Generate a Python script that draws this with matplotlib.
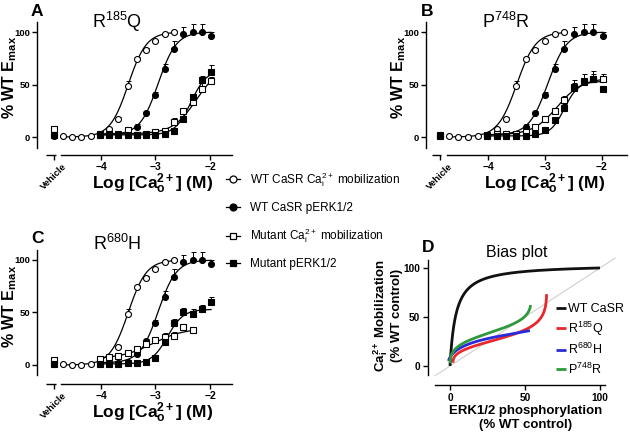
import numpy as np
import matplotlib
matplotlib.use('Agg')
import matplotlib.pyplot as plt
from matplotlib.lines import Line2D

plt.rcParams['font.family'] = ['Liberation Sans', 'DejaVu Sans']
plt.rcParams['mathtext.fontset'] = 'custom'
plt.rcParams['mathtext.rm'] = 'Liberation Sans'
plt.rcParams['mathtext.it'] = 'Liberation Sans:italic'
plt.rcParams['mathtext.bf'] = 'Liberation Sans:bold'
plt.rcParams['mathtext.default'] = 'regular'

# ---------------- data ----------------
log_ca = [-4.70, -4.53, -4.36, -4.19, -4.02, -3.85, -3.68, -3.51, -3.34,
          -3.17, -3.00, -2.83, -2.66, -2.49, -2.32, -2.15, -1.98]
vehicle_x = -4.86
x_ticks = [-4, -3, -2]
x_tick_labels = ['\u22124', '\u22123', '\u22122']
y_ticks = [0, 50, 100]

# WT CaSR (same in panels A-C)
wt_ca_x = log_ca[:13]
wt_ca_y = [1, 0, 0, 1, 2, 8, 17, 49, 74, 83, 91, 98, 100]
wt_ca_err = [0, 0, 0, 0, 1, 1, 2, 4, 2, 2, 1, 1, 1]
wt_erk_x = log_ca[4:]
wt_erk_y = [2, 2, 2, 3, 10, 23, 40, 65, 84, 98, 100, 100, 96]
wt_erk_err = [1, 1, 1, 1, 2, 2, 3, 5, 7, 7, 8, 8, 4]

# Panel A: R185Q
a_mut_ca_x = log_ca[4:]
a_mut_ca_y = [3, 3, 3, 7, 2, 3, 5, 6, 14, 25, 33, 46, 53]
a_mut_ca_err = [1, 1, 1, 3, 1, 2, 3, 3, 4, 3, 4, 5, 4]
a_mut_erk_x = log_ca[4:]
a_mut_erk_y = [2, 2, 2, 2, 2, 2, 2, 3, 6, 17, 38, 54, 62]
a_mut_erk_err = [1, 1, 1, 1, 1, 1, 2, 2, 2, 3, 3, 4, 7]
a_vehicle = [2, 1, 8, 2]   # WT Ca, WT pERK, mutant Ca, mutant pERK

# Panel B: P748R
b_mut_ca_x = log_ca[4:]
b_mut_ca_y = [2, 3, 3, 3, 5, 10, 17, 25, 35, 48, 53, 55, 55]
b_mut_ca_err = [1, 1, 1, 1, 2, 2, 3, 3, 4, 6, 7, 8, 5]
b_mut_erk_x = log_ca[4:]
b_mut_erk_y = [1, 1, 1, 1, 1, 3, 7, 16, 28, 47, 52, 55, 46]
b_mut_erk_err = [1, 1, 1, 1, 1, 1, 2, 2, 3, 4, 4, 5, 3]
b_vehicle = [1, 1, 2, 1]

# Panel C: R680H
c_mut_ca_x = log_ca[4:15]
c_mut_ca_y = [6, 8, 9, 11, 15, 20, 24, 27, 28, 36, 33]
c_mut_ca_err = [1, 1, 1, 2, 2, 2, 2, 3, 3, 3, 3]
c_mut_erk_x = log_ca[4:]
c_mut_erk_y = [1, 1, 1, 2, 2, 3, 7, 22, 40, 50, 49, 53, 60]
c_mut_erk_err = [1, 1, 1, 1, 1, 1, 2, 3, 4, 4, 4, 4, 5]
c_vehicle = [1, 1, 5, 1]

# fitted curves: (bottom, top, logEC50, Hill slope, log start, log end)
wt_ca_fit = (0, 100, -3.50, 2.6, -4.70, -2.66)
wt_erk_fit = (2, 100, -2.95, 2.6, -4.02, -1.98)
a_mut_ca_fit = (3, 68, -2.25, 2.0, -4.02, -1.98)
a_mut_erk_fit = (2, 64, -2.35, 3.0, -4.02, -1.98)
b_mut_ca_fit = (2, 56, -2.78, 2.0, -4.02, -1.98)
b_mut_erk_fit = (1, 53, -2.66, 3.5, -4.02, -1.98)
c_mut_ca_fit = (6, 35, -3.05, 1.5, -4.02, -2.32)
c_mut_erk_fit = (1, 53, -2.78, 3.0, -4.02, -1.98)

# Bias plot (panel D): ERK fit and Ca fit per receptor
d_names = ['WT CaSR', 'R$^{185}$Q', 'R$^{680}$H', 'P$^{748}$R']
d_colors = ['#111111', '#e8282c', '#2a2ad8', '#2e9a3c']
d_erk_fit = [(0, 100, -2.95, 2.6), (2, 64.5, -2.30, 3.0), (-1, 55, -2.75, 2.0), (0, 54, -2.62, 2.5)]
d_ca_fit = [(0, 100, -3.50, 2.6), (3, 85, -2.00, 1.2), (5, 37, -3.05, 1.5), (0, 70, -2.60, 1.0)]
d_log_range = [(-4.7, -1.3), (-4.0, -1.35), (-4.5, -2.0), (-4.0, -1.7)]
d_identity = [-10, 110]
d_ticks = [0, 50, 100]


def hill(x, p):
    bottom, top, ec50, h = p[:4]
    return bottom + (top - bottom) / (1 + 10 ** ((ec50 - x) * h))


# ---------------- figure ----------------
W, H = 630, 433
fig = plt.figure(figsize=(6.3, 4.33), dpi=100)


def px_rect(l, r, t, b):
    return [l / W, (H - b) / H, (r - l) / W, (b - t) / H]


def style_dose_axes(ax, xlim, ylim):
    ax.set_xlim(*xlim)
    ax.set_ylim(*ylim)
    for s in ['top', 'right']:
        ax.spines[s].set_visible(False)
    for s in ['left', 'bottom']:
        ax.spines[s].set_linewidth(1.0)
    ax.spines['left'].set_bounds(-10, 110)
    ax.spines['bottom'].set_bounds(-4.73, xlim[1])
    # vehicle segment of broken axis
    ax.plot([-5.0, -4.83], [0, 0], color='black', lw=1.0,
            transform=ax.get_xaxis_transform(), clip_on=False, solid_capstyle='butt')
    ax.set_yticks(y_ticks)
    ax.set_yticklabels([str(v) for v in y_ticks], fontsize=6.8, fontweight='bold')
    ax.set_xticks([vehicle_x] + x_ticks)
    labels = ax.set_xticklabels(['Vehicle'] + x_tick_labels, fontsize=7.5, fontweight='bold')
    labels[0].set_rotation(45)
    labels[0].set_ha('center')
    labels[0].set_fontsize(6.8)
    ax.tick_params(direction='out', length=3.5, width=1.0, pad=1.5)
    ax.set_ylabel('% WT E$_{max}$', fontsize=11.5, fontweight='bold')
    ax.set_xlabel('Log [Ca$^{2+}_{o}$] (M)', fontsize=12.5, fontweight='bold')


def draw_series(ax, x, y, err, vehicle_y, marker, filled, fit):
    ax.errorbar(x, y, yerr=[np.zeros(len(err)), err], fmt='none', ecolor='black',
                elinewidth=0.7, capsize=1.8, capthick=0.7, zorder=2)
    xs = np.linspace(fit[4], fit[5], 200)
    ax.plot(xs, hill(xs, fit), color='black', lw=0.9, zorder=3)
    fc = 'black' if filled else 'white'
    ax.plot(list(x) + [vehicle_x], list(y) + [vehicle_y], linestyle='none', marker=marker,
            ms=4.3, mfc=fc, mec='black', mew=0.8, zorder=4, clip_on=False)


panels = [
    dict(rect=(37, 232, 21.5, 155), xlim=(-5.174, -1.596), ylim=(-17.14, 110),
         title='R$^{185}$Q', tpos=(0.41, 0.955), letter='A', lpos=(31, 16),
         mca=(a_mut_ca_x, a_mut_ca_y, a_mut_ca_err, a_mut_ca_fit),
         merk=(a_mut_erk_x, a_mut_erk_y, a_mut_erk_err, a_mut_erk_fit), veh=a_vehicle),
    dict(rect=(426, 627, 21.5, 155), xlim=(-5.099, -1.554), ylim=(-17.14, 110),
         title='P$^{748}$R', tpos=(0.40, 0.955), letter='B', lpos=(421, 16),
         mca=(b_mut_ca_x, b_mut_ca_y, b_mut_ca_err, b_mut_ca_fit),
         merk=(b_mut_erk_x, b_mut_erk_y, b_mut_erk_err, b_mut_erk_fit), veh=b_vehicle),
    dict(rect=(37, 232, 249.5, 384), xlim=(-5.174, -1.596), ylim=(-18.1, 110),
         title='R$^{680}$H', tpos=(0.41, 1.0), letter='C', lpos=(31, 243),
         mca=(c_mut_ca_x, c_mut_ca_y, c_mut_ca_err, c_mut_ca_fit),
         merk=(c_mut_erk_x, c_mut_erk_y, c_mut_erk_err, c_mut_erk_fit), veh=c_vehicle),
]

for p in panels:
    ax = fig.add_axes(px_rect(*p['rect']))
    style_dose_axes(ax, p['xlim'], p['ylim'])
    ax.xaxis.set_label_coords(0.59, -0.125)
    ax.yaxis.set_label_coords(-0.09, 0.58)
    draw_series(ax, wt_ca_x, wt_ca_y, wt_ca_err, p['veh'][0], 'o', False, wt_ca_fit)
    draw_series(ax, wt_erk_x, wt_erk_y, wt_erk_err, p['veh'][1], 'o', True, wt_erk_fit)
    x, y, e, f = p['mca']
    draw_series(ax, x, y, e, p['veh'][2], 's', False, f)
    x, y, e, f = p['merk']
    draw_series(ax, x, y, e, p['veh'][3], 's', True, f)
    ax.text(p['tpos'][0], p['tpos'][1], p['title'], transform=ax.transAxes,
            ha='center', va='baseline', fontsize=13)
    fig.text(p['lpos'][0] / W, 1 - p['lpos'][1] / H, p['letter'], fontsize=12.5,
             fontweight='bold', ha='left', va='baseline')

# main legend
handles = [
    Line2D([], [], color='black', lw=0.9, marker='o', ms=5, mfc='white', mec='black', mew=0.9),
    Line2D([], [], color='black', lw=0.9, marker='o', ms=5, mfc='black', mec='black', mew=0.9),
    Line2D([], [], color='black', lw=0.9, marker='s', ms=5, mfc='white', mec='black', mew=0.9),
    Line2D([], [], color='black', lw=0.9, marker='s', ms=5, mfc='black', mec='black', mew=0.9),
]
labels = ['WT CaSR Ca$^{2+}_{i}$ mobilization', 'WT CaSR pERK1/2',
          'Mutant Ca$^{2+}_{i}$ mobilization', 'Mutant pERK1/2']
fig.legend(handles, labels, loc='upper left', bbox_to_anchor=(226 / W, 1 - 170 / H),
           frameon=False, fontsize=8.5, handlelength=1.2, handletextpad=0.8,
           labelspacing=1.1, borderpad=0, borderaxespad=0)

# ---------------- panel D ----------------
axd = fig.add_axes(px_rect(428, 618, 256.2, 385))
axd.set_xlim(-14.67, 112)
axd.set_ylim(-19.4, 112)
for s in ['top', 'right']:
    axd.spines[s].set_visible(False)
axd.spines['left'].set_bounds(-9, 108)
axd.spines['bottom'].set_bounds(-10, 103)
for s in ['left', 'bottom']:
    axd.spines[s].set_linewidth(1.0)
axd.plot(d_identity, d_identity, color='#cfcfcf', lw=0.8, zorder=1)
for name, col, pe, pc, rng in zip(d_names, d_colors, d_erk_fit, d_ca_fit, d_log_range):
    c = np.linspace(rng[0], rng[1], 400)
    axd.plot(hill(c, pe), hill(c, pc), color=col, lw=2.0, label=name, zorder=3,
             solid_capstyle='butt')
axd.set_xticks(d_ticks)
axd.set_xticklabels([str(v) for v in d_ticks], fontsize=7.3, fontweight='bold')
axd.set_yticks(d_ticks)
axd.set_yticklabels([str(v) for v in d_ticks], fontsize=7.3, fontweight='bold')
axd.tick_params(direction='out', length=3.5, width=1.0, pad=2)
axd.set_xlabel('ERK1/2 phosphorylation\n(% WT control)', fontsize=9.5, fontweight='bold',
               linespacing=1.2)
axd.xaxis.set_label_coords(0.516, -0.155)
axd.set_ylabel('Ca$^{2+}_{i}$ Mobilization\n(% WT control)', fontsize=9.5, fontweight='bold',
               linespacing=1.15)
axd.yaxis.set_label_coords(-0.13, 0.54)
fig.text(517 / W, 1 - 256.5 / H, 'Bias plot', fontsize=11.5, ha='center', va='baseline')
fig.text(422 / W, 1 - 252 / H, 'D', fontsize=12.5, fontweight='bold', ha='left', va='baseline')
axd.legend(loc='upper left', bbox_to_anchor=(556 / W, 1 - 303 / H),
           bbox_transform=fig.transFigure, frameon=False, fontsize=9,
           handlelength=0.8, handletextpad=0.2, labelspacing=0.35, borderpad=0,
           borderaxespad=0)

fig.savefig('out.png', dpi=100)
